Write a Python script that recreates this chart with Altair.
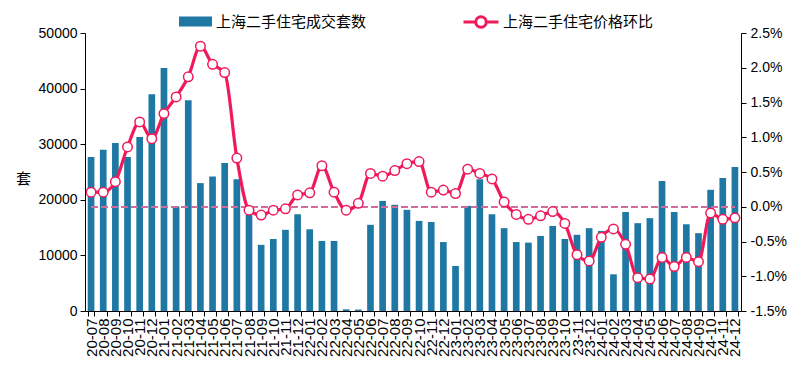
import altair as alt
import pandas as pd

months = [
    "20-07", "20-08", "20-09", "20-10", "20-11", "20-12",
    "21-01", "21-02", "21-03", "21-04", "21-05", "21-06",
    "21-07", "21-08", "21-09", "21-10", "21-11", "21-12",
    "22-01", "22-02", "22-03", "22-04", "22-05", "22-06",
    "22-07", "22-08", "22-09", "22-10", "22-11", "22-12",
    "23-01", "23-02", "23-03", "23-04", "23-05", "23-06",
    "23-07", "23-08", "23-09", "23-10", "23-11", "23-12",
    "24-01", "24-02", "24-03", "24-04", "24-05", "24-06",
    "24-07", "24-08", "24-09", "24-10", "24-11", "24-12",
]

volumes = [
    27700, 29000, 30200, 27700, 31300, 39000,
    43700, 18800, 37900, 23000, 24200, 26600,
    23700, 17300, 11900, 12950, 14600, 17400,
    14700, 12600, 12600, 300, 250, 15500,
    19800, 19100, 18200, 16200, 16000, 12400,
    8100, 18900, 23700, 17400, 14900, 12400,
    12300, 13500, 15300, 12950, 13700, 14900,
    14400, 6600, 17800, 15800, 16700, 23400,
    17800, 15600, 14000, 21800, 23900, 25900,
]

price_change = [
    0.21, 0.21, 0.36, 0.86, 1.22, 0.98,
    1.34, 1.58, 1.87, 2.31, 2.05, 1.93,
    0.70, -0.05, -0.12, -0.05, -0.03, 0.17,
    0.20, 0.59, 0.21, -0.05, 0.05, 0.48,
    0.44, 0.52, 0.62, 0.65, 0.21, 0.24,
    0.19, 0.54, 0.48, 0.40, 0.07, -0.11,
    -0.18, -0.13, -0.07, -0.24, -0.69, -0.78,
    -0.44, -0.32, -0.54, -1.02, -1.04, -0.73,
    -0.86, -0.73, -0.79, -0.09, -0.18, -0.16,
]

bar_name = "上海二手住宅成交套数"
line_name = "上海二手住宅价格环比"
left_ticks = [0, 10000, 20000, 30000, 40000, 50000]
right_ticks = [-1.5, -1.0, -0.5, 0.0, 0.5, 1.0, 1.5, 2.0, 2.5]

BAR_COLOR = "#1F78A4"
LINE_COLOR = "#F0195A"
DASH_COLOR = "#D36B9C"
NUM_FONT = "Liberation Sans"
CJK_FONT = "Noto Sans CJK SC"

df = pd.DataFrame({
    "month": months,
    "vol": volumes,
    "chg": price_change,
    "s1": bar_name,
    "s2": line_name,
})

base = alt.Chart(df)

x_enc = alt.X(
    "month:N",
    sort=months,
    scale=alt.Scale(paddingInner=0.45, paddingOuter=0.225),
    axis=alt.Axis(
        title=None, labelAngle=-90, tickBand="extent",
        labelFont=NUM_FONT, labelFontSize=15, labelColor="black",
        domainColor="black", tickColor="black", tickSize=5, labelPadding=2,
    ),
)

left_axis = alt.Axis(
    title="套", titleAngle=0, titleX=-62, titleY=145, titleAlign="center",
    titleBaseline="middle", titleFont=CJK_FONT, titleFontSize=15,
    titleFontWeight="normal", titleColor="black",
    values=left_ticks, format="d", grid=False, labelFont=NUM_FONT, labelFontSize=14,
    labelColor="black", domainColor="black", tickColor="black", tickSize=5,
    labelPadding=3,
)

right_axis = alt.Axis(
    title=None, orient="right", values=right_ticks, grid=False,
    labelExpr="replace(format(datum.value, '.1f'), '\u2212', '-') + '%'",
    labelFont=NUM_FONT, labelFontSize=14, labelColor="black",
    domainColor="black", tickColor="black", tickSize=5, labelPadding=4,
)
right_scale = alt.Scale(domain=[-1.5, 2.5], nice=False, zero=False)

bars = base.mark_bar().encode(
    x=x_enc,
    y=alt.Y("vol:Q", axis=left_axis, scale=alt.Scale(domain=[0, 50000], nice=False)),
    color=alt.Color(
        "s1:N",
        scale=alt.Scale(domain=[bar_name], range=[BAR_COLOR]),
        legend=alt.Legend(
            title=None, orient="none", legendX=94, legendY=-28,
            symbolType="M-1,-0.3H1V0.3H-1Z", symbolSize=1089,
            symbolStrokeWidth=0, labelFont=CJK_FONT, labelFontSize=15,
            labelColor="black", labelOffset=4,
        ),
    ),
)

line = base.mark_line(strokeWidth=3.2, interpolate="monotone").encode(
    x=x_enc,
    y=alt.Y("chg:Q", axis=right_axis, scale=right_scale),
    stroke=alt.Stroke(
        "s2:N",
        scale=alt.Scale(domain=[line_name], range=[LINE_COLOR]),
        legend=alt.Legend(
            title=None, orient="none", legendX=377, legendY=-30,
            symbolType="M-1,0H-0.3M0.3,0H1M-0.3,0A0.3,0.3 0 1,1 0.3,0A0.3,0.3 0 1,1 -0.3,0",
            symbolSize=1225, symbolStrokeWidth=3, symbolFillColor="white",
            labelFont=CJK_FONT, labelFontSize=15, labelColor="black",
            labelOffset=3,
        ),
    ),
)

points = base.mark_point(
    filled=True, fill="white", stroke=LINE_COLOR, strokeWidth=1.5, size=90, opacity=1
).encode(
    x=x_enc,
    y=alt.Y("chg:Q", axis=right_axis, scale=right_scale),
)

zero_rule = base.mark_rule(color=DASH_COLOR, strokeWidth=1.5, strokeDash=[6, 4]).encode(
    x=alt.X(datum=months[0], type="nominal"),
    x2=alt.X2(datum=months[-1]),
    y=alt.Y(datum=0, type="quantitative", axis=right_axis, scale=right_scale),
)

right_layer = alt.layer(zero_rule, line, points)

chart = alt.layer(bars, right_layer).resolve_scale(
    y="independent", color="independent", stroke="independent"
).properties(
    width=656,
    height=278,
    background="white",
    autosize=alt.AutoSizeParams(type="none"),
    padding={"left": 77, "top": 25, "right": 55, "bottom": 55},
).configure_view(stroke=None)

chart.save("out.html", embed_options={"renderer": "svg", "actions": False})
